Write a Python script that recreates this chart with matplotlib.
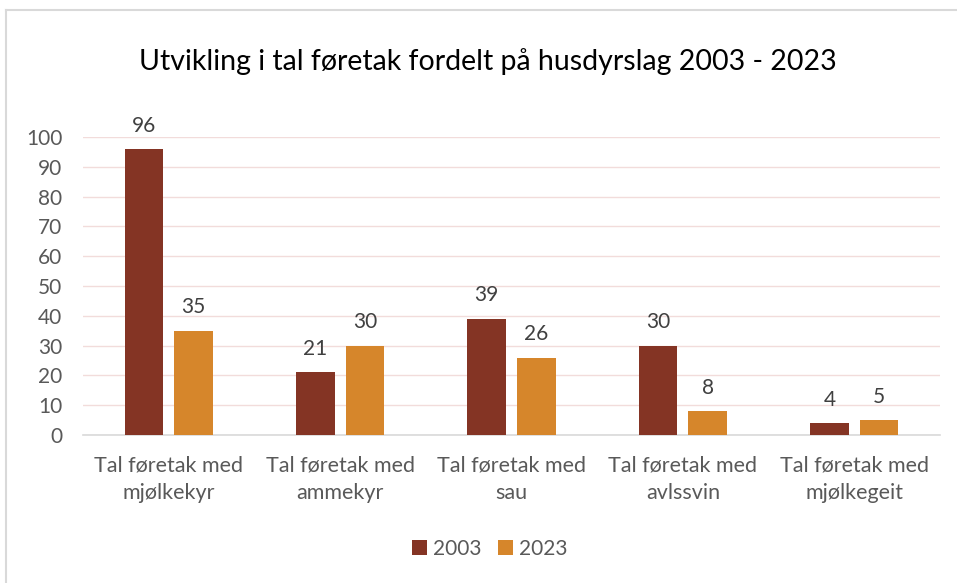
import numpy as np
import matplotlib.pyplot as plt
from matplotlib.lines import Line2D

plt.rcParams['font.family'] = ['Lato', 'DejaVu Sans']

# data
kategoriar = ['Tal føretak med\nmjølkekyr', 'Tal føretak med\nammekyr', 'Tal føretak med\nsau',
              'Tal føretak med\navlssvin', 'Tal føretak med\nmjølkegeit']
aar = ['2003', '2023']
v2003 = [96, 21, 39, 30, 4]
v2023 = [35, 30, 26, 8, 5]

farge = ['#843424', '#D6862B']
tekst = '#595959'

fig = plt.figure(figsize=(9.57, 5.83), dpi=100)
ax = fig.add_axes([83/957, 1 - 435/583, (940 - 83)/957, (435 - 137)/583])

x = np.arange(len(kategoriar))
b = 0.225
d = 0.145
for verdiar, off, f, lab in [(v2003, -d, farge[0], aar[0]), (v2023, d, farge[1], aar[1])]:
    bars = ax.bar(x + off, verdiar, b, color=f, label=lab, zorder=3)
    for r, v in zip(bars, verdiar):
        ax.text(r.get_x() + r.get_width() / 2, v + 4.5, str(v), ha='center', va='bottom',
                fontsize=15, color='#404040')

ax.set_xlim(-0.5, len(kategoriar) - 0.5)
ax.set_ylim(0, 100)
ax.set_yticks(range(0, 101, 10))
ax.grid(axis='y', color='#F2DCDB', linewidth=1, zorder=0)
for s in ['top', 'right', 'left']:
    ax.spines[s].set_visible(False)
ax.spines['bottom'].set_color('#D9D9D9')
ax.spines['bottom'].set_linewidth(1.2)
ax.tick_params(length=0, colors=tekst, labelsize=15)
ax.tick_params(axis='y', pad=15)
ax.tick_params(axis='x', pad=15)
ax.set_xticks(x)
ax.set_xticklabels(kategoriar, fontsize=15.5, linespacing=1.45)

fig.text(488/957, 1 - 62/583, 'Utvikling i tal føretak fordelt på husdyrslag 2003 - 2023',
         ha='center', va='center', fontsize=20.5, color='#000000')

ax.legend(loc='center', bbox_to_anchor=(490/957, 1 - 549/583), bbox_transform=fig.transFigure,
          ncol=2, frameon=False, fontsize=15, handlelength=0.7, handleheight=0.7,
          columnspacing=0.8, handletextpad=0.3, labelcolor=tekst)

# ramme rundt diagrammet
fig.add_artist(Line2D([6/957, 1], [1 - 10/583, 1 - 10/583], transform=fig.transFigure,
                      color='#D9D9D9', linewidth=1.5))
fig.add_artist(Line2D([6/957, 6/957], [0, 1 - 10/583], transform=fig.transFigure,
                      color='#D9D9D9', linewidth=1.5))

fig.savefig('out.png', dpi=100)
